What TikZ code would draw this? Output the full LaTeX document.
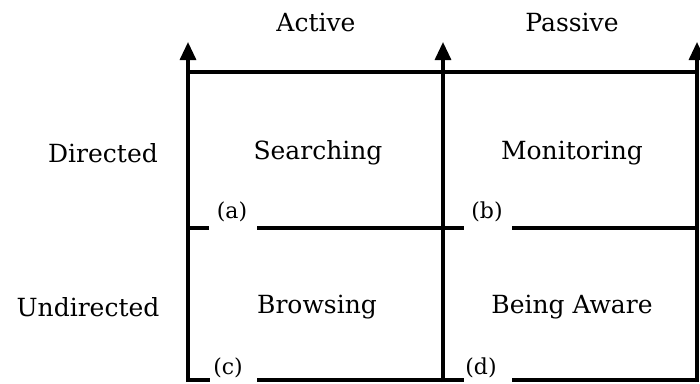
\documentclass[tikz,border=0pt]{standalone}
\usepackage{fontspec}
\setmainfont{DejaVu Serif}
\usetikzlibrary{arrows.meta}
\begin{document}
\begin{tikzpicture}[x=1pt, y=-1pt,
  axis/.style={line width=3.2pt, -{Triangle[width=16pt,length=18pt]}},
  rule/.style={line width=3.2pt},
  head/.style={font=\fontsize{25}{30}\selectfont, inner sep=0pt},
  cell/.style={font=\fontsize{25}{30}\selectfont, inner sep=0pt},
  tag/.style={font=\fontsize{22}{26}\selectfont, inner sep=0pt}]
\useasboundingbox (0,0) rectangle (700,383);

% vertical axes with arrowheads
\coordinate (l0) at (188,382); \coordinate (l1) at (188,42);
\coordinate (m0) at (443,382); \coordinate (m1) at (443,42);
\coordinate (r0) at (697,382); \coordinate (r1) at (697,42);
\draw[axis] (l0) -- (l1);
\draw[axis] (m0) -- (m1);
\draw[axis] (r0) -- (r1);

% top rule
\coordinate (t0) at (188,72); \coordinate (t1) at (697,72);
\draw[rule] (t0) -- (t1);

% middle rules, broken around the tags
\coordinate (a0) at (188,228); \coordinate (a1) at (209,228);
\coordinate (a2) at (257,228); \coordinate (a3) at (464,228);
\coordinate (a4) at (512,228); \coordinate (a5) at (697,228);
\draw[rule] (a0) -- (a1);
\draw[rule] (a2) -- (a3);
\draw[rule] (a4) -- (a5);

% bottom rules
\coordinate (b0) at (188,380); \coordinate (b1) at (210,380);
\coordinate (b2) at (257,380); \coordinate (b3) at (464,380);
\coordinate (b4) at (512,380); \coordinate (b5) at (697,380);
\draw[rule] (b0) -- (b1);
\draw[rule] (b2) -- (b3);
\draw[rule] (b4) -- (b5);

% column and row headings
\node[head] (active) at (316,22) {Active};
\node[head] (passive) at (572,22) {Passive};
\node[head] (directed) at (103,153) {Directed};
\node[head] (undirected) at (88,307) {Undirected};

% quadrant names
\node[cell] (searching) at (318,153) {Searching};
\node[cell] (monitoring) at (572,153) {Monitoring};
\node[cell] (browsing) at (317,307) {Browsing};
\node[cell] (aware) at (572,307) {Being Aware};

% quadrant tags
\node[tag] (ta) at (232,212) {(a)};
\node[tag] (tb) at (487,212) {(b)};
\node[tag] (tc) at (228,368) {(c)};
\node[tag] (td) at (481,368) {(d)};
\end{tikzpicture}
\end{document}
